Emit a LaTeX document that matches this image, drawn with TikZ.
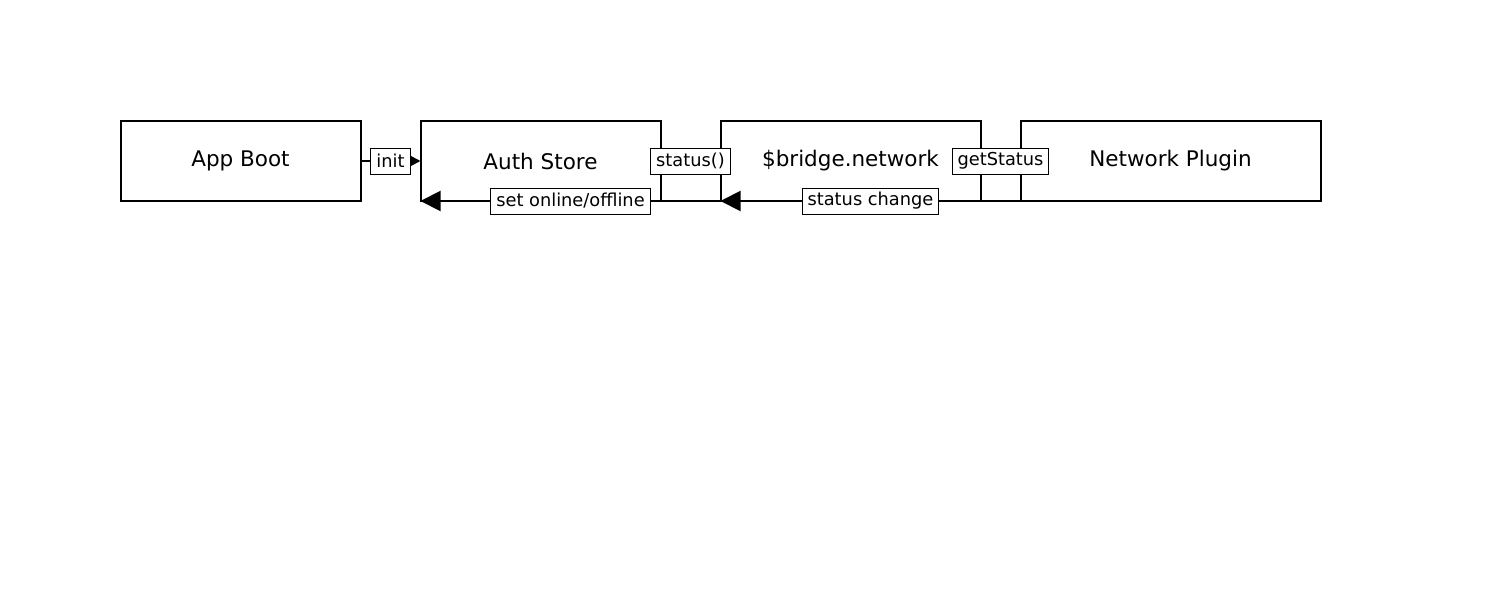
\documentclass[tikz,border=0pt]{standalone}
\usepackage{fontspec}
\setmainfont{DejaVu Sans}
\usetikzlibrary{arrows.meta}
\begin{document}
\begin{tikzpicture}[x=1pt,y=-1pt,
  blk/.style={draw=black,line width=2pt,outer sep=0pt,minimum width=240pt,minimum height=80pt,inner sep=0pt,font=\fontsize{21.5}{24}\selectfont},
  lbl/.style={draw=black,line width=1pt,fill=white,inner xsep=5.5pt,inner ysep=0pt,minimum height=26pt,font=\fontsize{17.8}{20}\selectfont},
  conn/.style={line width=2pt},
  smalltip/.style={-{Triangle[length=10pt,width=10pt]}},
  bigtip/.style={-{Triangle[length=20pt,width=20pt]}}]
\useasboundingbox (0,0) rectangle (1500,600);
\node[blk] (boot) at (240.5,161) {App Boot};
\node[blk] (auth) at (540.5,161) {Auth Store};
\node[blk,minimum width=260pt] (bridge) at (850.5,161) {\$bridge.network};
\node[blk,minimum width=300pt] (plugin) at (1170.5,161) {Network Plugin};
\draw[conn,smalltip] (boot.east) -- node[lbl] {init} (auth.west);
\draw[conn,smalltip] (auth.east) -- node[lbl] {status()} (bridge.west);
\draw[conn,smalltip] (bridge.east) -- node[lbl] {getStatus} (plugin.west);
\draw[conn,bigtip] (plugin.south west) -- node[lbl] {status change} (bridge.south west);
\draw[conn,bigtip] (bridge.south west) -- node[lbl] {set online/offline} (auth.south west);
\end{tikzpicture}
\end{document}
